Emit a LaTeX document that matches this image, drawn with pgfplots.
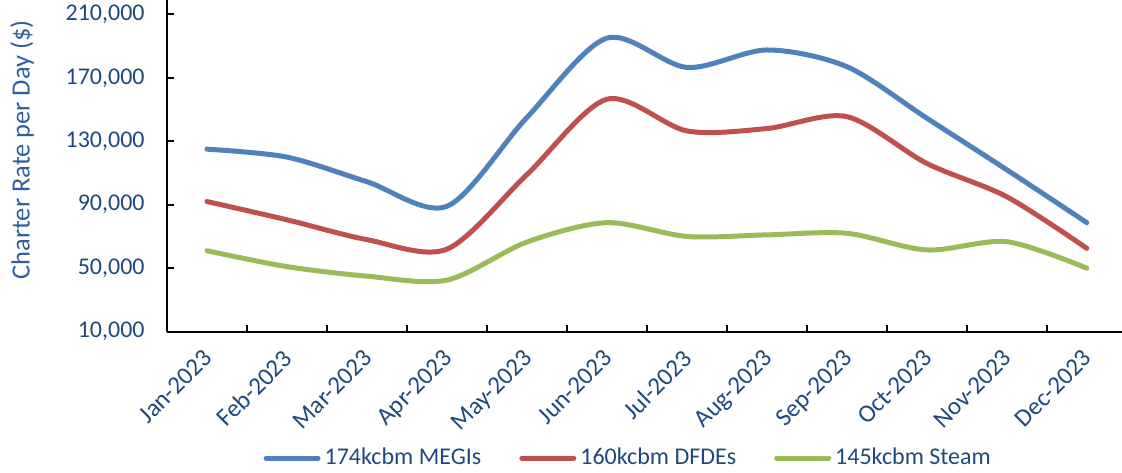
\documentclass[border=0pt]{standalone}
\usepackage{fontspec}
\setmainfont{Carlito}
\usepackage{pgfplots}
\pgfplotsset{compat=1.18}
\usetikzlibrary{calc}
\definecolor{cblue}{HTML}{4F81BD}
\definecolor{cred}{HTML}{C0504D}
\definecolor{cgreen}{HTML}{9BBB59}
\definecolor{navy}{HTML}{1F497D}
\definecolor{lblue}{HTML}{2F5F9F}
\begin{document}
\fontsize{12}{14}\selectfont
\begin{tikzpicture}
\begin{axis}[
  scale only axis,
  width=477.5pt, height=165.85pt,
  xmin=-0.5, xmax=11.44,
  ymin=10000, ymax=219000,
  axis lines=left,
  axis line style={-, line width=1pt, black},
  every tick/.style={black, line width=0.8pt},
  tick align=inside,
  major tick length=3.5pt,
  xtick={-0.5,0.5,...,10.5},
  xticklabels={},
  extra x ticks={0,...,11},
  extra x tick style={major tick length=0pt},
  extra x tick labels={Jan-2023,Feb-2023,Mar-2023,Apr-2023,May-2023,Jun-2023,Jul-2023,Aug-2023,Sep-2023,Oct-2023,Nov-2023,Dec-2023},
  xticklabel style={rotate=45, anchor=north east, text=navy, font=\fontsize{12.5}{14}\selectfont, xshift=-3.6pt, yshift=0.2pt},
  ytick={10000,50000,...,210000},
  scaled y ticks=false,
  yticklabel style={text=navy, font=\fontsize{12}{14}\selectfont, xshift=-7pt},
  /pgf/number format/.cd, assume math mode=true, 1000 sep={,}, fixed,
  /pgfplots/.cd,
  ylabel={Charter Rate per Day (\$)},
  every axis y label/.style={at={(axis description cs:-0.1518,0.548)}, rotate=90, anchor=center, text=lblue, font=\fontsize{13.2}{15}\selectfont},
  legend columns=-1,
  legend style={at={(0.484,-0.381)}, anchor=center, draw=none, fill=none, text=navy, font=\fontsize{12}{14}\selectfont,
    /tikz/every even column/.append style={column sep=17pt}},
  legend image code/.code={\draw[#1, line width=2.5pt, line cap=round] (0pt,0pt) -- (26pt,0pt);},
  every axis plot/.append style={line width=2.5pt, smooth, line cap=round},
  clip=false,
]
\addplot[cblue] coordinates {(0,125000)(1,120000)(2,104500)(3,89000)(4,145000)(5,195000)(6,176500)(7,187500)(8,177000)(9,144500)(10,112000)(11,78700)};
\addplot[cred] coordinates {(0,92000)(1,80500)(2,68000)(3,62000)(4,109000)(5,156500)(6,136500)(7,138000)(8,145500)(9,116000)(10,95000)(11,62500)};
\addplot[cgreen] coordinates {(0,61000)(1,51000)(2,45000)(3,42500)(4,66500)(5,78700)(6,70000)(7,71000)(8,72000)(9,61500)(10,66700)(11,50000)};
\legend{174kcbm MEGIs,160kcbm DFDEs,145kcbm Steam}
\end{axis}
\pgfresetboundingbox
\path ($(current axis.south west)+(-83.5pt,-70.65pt)$) rectangle (current axis.north east);
\end{tikzpicture}
\end{document}
